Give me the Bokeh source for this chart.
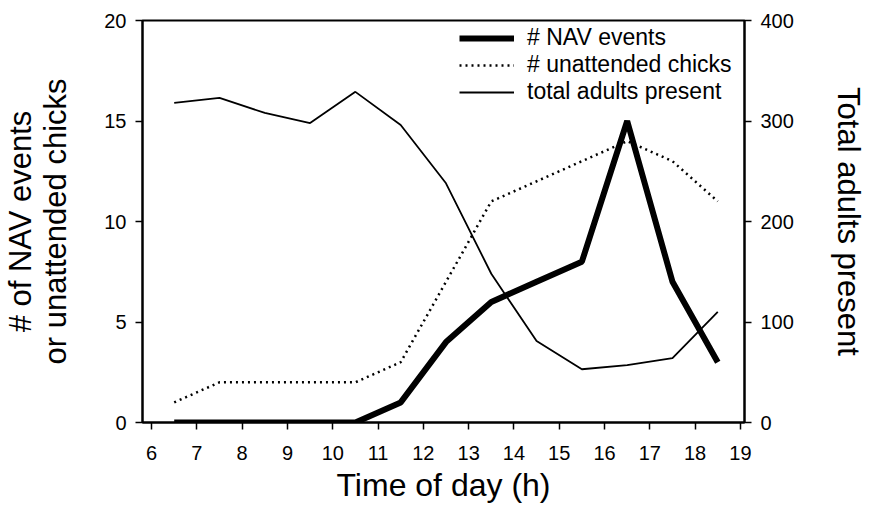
from bokeh.plotting import figure
from bokeh.models import Range1d, LinearAxis, FixedTicker, Legend, LegendItem
from bokeh.embed import file_html
from bokeh.resources import INLINE

# ---- data ----
hours = [6.5, 7.5, 8.5, 9.5, 10.5, 11.5, 12.5, 13.5, 14.5, 15.5, 16.5, 17.5, 18.5]
nav_events = [0, 0, 0, 0, 0, 1, 4, 6, 7, 8, 15, 7, 3]
unattended_chicks = [1, 2, 2, 2, 2, 3, 7, 11, 12, 13, 14, 13, 11]
total_adults = [318, 323, 308, 298, 329, 296, 238, 148, 81, 53, 57, 64, 110]
x_ticks = list(range(6, 20))
left_ticks = [0, 5, 10, 15, 20]
right_ticks = [0, 100, 200, 300, 400]

FONT = "Liberation Sans"

p = figure(width=870, height=511, output_backend="svg", toolbar_location=None,
           x_range=Range1d(5.8, 19.09), y_range=Range1d(0, 20),
           min_border_left=141, min_border_right=126, min_border_top=20,
           min_border_bottom=89)
p.extra_y_ranges = {"adults": Range1d(0, 400)}

p.grid.visible = False
p.outline_line_color = "black"
p.outline_line_width = 2
p.background_fill_color = "white"
p.border_fill_color = "white"

r_nav = p.line(hours, nav_events, line_color="black", line_width=6)
r_chk = p.line(hours, unattended_chicks, line_color="black", line_width=2.5,
               line_dash="2 4")
r_adl = p.line(hours, total_adults, line_color="black", line_width=1.8,
               y_range_name="adults")

def style_axis(ax):
    ax.axis_line_width = 2
    ax.axis_line_color = "black"
    ax.major_tick_line_width = 1.5
    ax.major_tick_in = 0
    ax.major_tick_out = 7
    ax.minor_tick_line_color = None
    ax.major_label_text_font = FONT
    ax.major_label_text_font_size = "20px"
    ax.major_label_text_color = "black"
    ax.axis_label_text_font = FONT
    ax.axis_label_text_font_size = "31px"
    ax.axis_label_text_font_style = "normal"
    ax.axis_label_text_color = "black"
    ax.major_label_standoff = 9

xa = p.xaxis[0]
xa.ticker = FixedTicker(ticks=x_ticks)
xa.axis_label = "Time of day (h)"
style_axis(xa)
xa.axis_label_text_font_size = "32px"
xa.major_label_standoff = 16
xa.axis_label_standoff = 4

ya = p.yaxis[0]
ya.ticker = FixedTicker(ticks=left_ticks)
ya.axis_label = "# of NAV events\nor unattended chicks"
style_axis(ya)
ya.axis_label_standoff = 28
ya.axis_label_text_line_height = 1.0

ra = LinearAxis(y_range_name="adults", ticker=FixedTicker(ticks=right_ticks),
                axis_label="Total adults present")
style_axis(ra)
ra.axis_label_standoff = 34
p.add_layout(ra, "right")

legend = Legend(items=[
    LegendItem(label="# NAV events", renderers=[r_nav]),
    LegendItem(label="# unattended chicks", renderers=[r_chk]),
    LegendItem(label="total adults present", renderers=[r_adl]),
], location=(317, 317))
legend.background_fill_alpha = 0
legend.border_line_color = None
legend.label_text_font = FONT
legend.label_text_font_size = "23px"
legend.label_text_color = "black"
legend.glyph_width = 55
legend.glyph_height = 22
legend.label_height = 22
legend.spacing = 0
legend.label_standoff = 13
legend.padding = 4
legend.margin = 0
p.add_layout(legend)

open("out.html", "w").write(file_html(p, INLINE))
